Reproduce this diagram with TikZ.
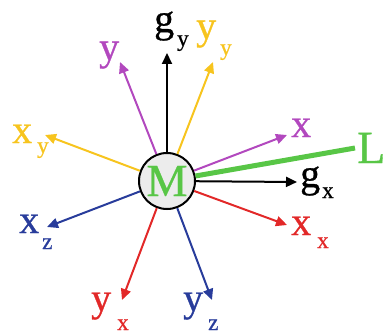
\documentclass[tikz,border=0pt]{standalone}
\usepackage{fontspec}
\setmainfont{Liberation Serif}
\newfontface\heavy{Liberation Serif}[FakeBold=0.7]
\usetikzlibrary{arrows.meta}
\definecolor{cpurple}{RGB}{178,72,190}
\definecolor{cyellow}{RGB}{247,196,30}
\definecolor{cred}{RGB}{226,40,40}
\definecolor{cblue}{RGB}{40,60,155}
\definecolor{cgreen}{RGB}{88,198,70}
\begin{document}
\begin{tikzpicture}[x=1pt,y=-1pt,
  arr/.style={line width=2pt,-{Triangle[length=11pt,width=10pt]}},
  lab/.style={anchor=base west,inner sep=0pt,font=\heavy\fontsize{40}{40}\selectfont},
  sublab/.style={anchor=base west,inner sep=0pt,font=\heavy\fontsize{23}{23}\selectfont}]
\useasboundingbox (0,0) rectangle (385,334);
\node[circle,draw,line width=2pt,fill=gray!15,minimum size=56pt,inner sep=0pt,
  text=cgreen,font=\heavy\fontsize{46}{46}\selectfont] (M) at (167,181) {M};
% tips
\coordinate (tgy) at (167,53);
\coordinate (ty) at (120,62);
\coordinate (tyy) at (213,62);
\coordinate (tx) at (287,135);
\coordinate (tL) at (355,148);
\coordinate (tgx) at (297,182);
\coordinate (txx) at (287,225);
\coordinate (tyz) at (212,300);
\coordinate (tyx) at (122,300);
\coordinate (txz) at (47,227);
\coordinate (txy) at (45,135);
% arrows
\draw[arr,black] (M) -- (tgy);
\draw[arr,cpurple] (M) -- (ty);
\draw[arr,cyellow] (M) -- (tyy);
\draw[arr,cpurple] (M) -- (tx);
\draw[line width=5pt,cgreen] (M) -- (tL);
\draw[arr,black] (M) -- (tgx);
\draw[arr,cred] (M) -- (txx);
\draw[arr,cblue] (M) -- (tyz);
\draw[arr,cred] (M) -- (tyx);
\draw[arr,cblue] (M) -- (txz);
\draw[arr,cyellow] (M) -- (txy);
% labels
\node[lab,cpurple] (ly) at (99,60) {y};
\node[lab,black] (lgy) at (154,32) {g};
\node[sublab,black] (lgys) at (177,46) {y};
\node[lab,cyellow] (lyy) at (196,39) {y};
\node[sublab,cyellow] (lyys) at (220,55) {y};
\node[lab,cpurple] (lx) at (291,137) {x};
\node[lab,cgreen,font=\heavy\fontsize{46}{46}\selectfont] (lL) at (357,163) {L};
\node[lab,black] (lgx) at (300,187) {g};
\node[sublab,black] (lgxs) at (322,198) {x};
\node[lab,cred] (lxx) at (291,235) {x};
\node[sublab,cred] (lxxs) at (317,248) {x};
\node[lab,cblue] (lyz) at (183,311) {y};
\node[sublab,cblue] (lyzs) at (208,330) {z};
\node[lab,cred] (lyx) at (91,311) {y};
\node[sublab,cred] (lyxs) at (117,330) {x};
\node[lab,cblue] (lxz) at (19,233) {x};
\node[sublab,cblue] (lxzs) at (42,249) {z};
\node[lab,cyellow] (lxy) at (12,143) {x};
\node[sublab,cyellow] (lxys) at (37,153) {y};
\end{tikzpicture}
\end{document}
